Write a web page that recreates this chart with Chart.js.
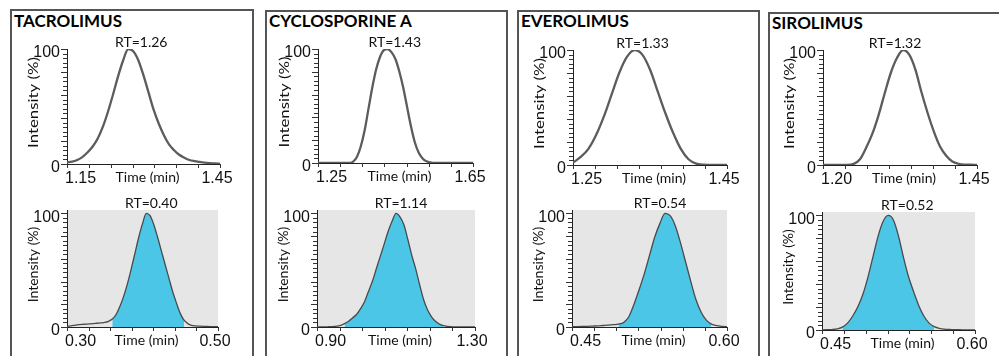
<!DOCTYPE html>
<html>
<head>
<meta charset="utf-8">
<script src="https://cdn.jsdelivr.net/npm/chart.js@4.4.0/dist/chart.umd.min.js"></script>
<style>
body{margin:0;background:#fff;}
#wrap{position:relative;width:999px;height:356px;overflow:hidden;background:#fff;}
.box{position:absolute;border:2px solid #555;height:400px;}
.ttl{position:absolute;font:bold 17px Lato,sans-serif;line-height:17px;color:#000;white-space:nowrap;}
canvas{position:absolute;}
</style>
</head>
<body>
<div id="wrap"></div>
<script>
// drug names and retention time labels
var drugs = ['TACROLIMUS', 'CYCLOSPORINE A', 'EVEROLIMUS', 'SIROLIMUS'];
var rtTop = ['RT=1.26', 'RT=1.43', 'RT=1.33', 'RT=1.32'];
var rtBottom = ['RT=0.40', 'RT=1.14', 'RT=0.54', 'RT=0.52'];

// tick labels (first / last of each x axis), y axis
var xTicksTop = [['1.15', '1.45'], ['1.25', '1.65'], ['1.25', '1.45'], ['1.20', '1.45']];
var xTicksBottom = [['0.30', '0.50'], ['0.90', '1.30'], ['0.45', '0.60'], ['0.45', '0.60']];
var yTicks = ['0', '100'];

// top row chromatograms (time in min, intensity in %)
var tacTopTime = [1.15,1.16,1.17,1.18,1.19,1.20,1.21,1.22,1.23,1.24,1.25,1.26,1.27,1.28,1.29,1.30,1.31,1.32,1.33,1.34,1.35,1.36,1.37,1.38,1.39,1.40,1.41,1.42,1.43,1.44,1.45];
var tacTopInt = [1.5,2,3.5,6,10,15,22,32,45,60,76,90,100,98,90,77,62,47,35,25,17,12,8,5.5,3.5,2.5,1.8,1.2,0.8,0.5,0.3];

var csaTopTime = [1.25,1.26,1.27,1.28,1.29,1.30,1.31,1.32,1.33,1.34,1.35,1.36,1.37,1.38,1.39,1.40,1.41,1.42,1.43,1.44,1.45,1.46,1.47,1.48,1.49,1.50,1.51,1.52,1.53,1.54,1.55,1.56,1.57,1.58,1.59,1.60,1.61,1.62,1.63,1.64,1.65];
var csaTopInt = [0,0,0,0,0,0,0,0,0,1,5,14,28,47,66,82,93,99,100,97,91,80,66,49,32,18,9,4,1.5,0.5,0,0,0,0,0,0,0,0,0,0,0];

var eveTopTime = [1.25,1.26,1.27,1.28,1.29,1.30,1.31,1.32,1.33,1.34,1.35,1.36,1.37,1.38,1.39,1.40,1.41,1.42,1.43,1.44,1.45];
var eveTopInt = [2,7,14,26,42,61,80,94,100,96,83,64,45,28,14,5,1.2,0.3,0,0,0];

var sirTopTime = [1.20,1.21,1.22,1.23,1.24,1.25,1.26,1.27,1.28,1.29,1.30,1.31,1.32,1.33,1.34,1.35,1.36,1.37,1.38,1.39,1.40,1.41,1.42,1.43,1.44,1.45];
var sirTopInt = [0,0,0,0,0,1,5,15,27,43,62,80,93,100,96,83,63,45,29,16,8,3,1,0.3,0.2,0.1];

// bottom row chromatograms
var tacBotTime = [0.300,0.305,0.310,0.315,0.320,0.325,0.330,0.335,0.340,0.345,0.350,0.355,0.360,0.365,0.370,0.375,0.380,0.385,0.390,0.395,0.400,0.405,0.410,0.415,0.420,0.425,0.430,0.435,0.440,0.445,0.450,0.455,0.460,0.465,0.470,0.475,0.480,0.485,0.490,0.495,0.500];
var tacBotInt = [0.5,1,1.5,2,2.3,2.5,2.7,3,3.3,3.6,4,5,7,11,18,27,38,51,65,79,91,100,98,90,79,67,55,43,31,21,12,6,3,1.5,1,0.8,0.6,0.5,0.4,0.3,0.3];

var csaBotTime = [0.90,0.91,0.92,0.93,0.94,0.95,0.96,0.97,0.98,0.99,1.00,1.01,1.02,1.03,1.04,1.05,1.06,1.07,1.08,1.09,1.10,1.11,1.12,1.13,1.14,1.15,1.16,1.17,1.18,1.19,1.20,1.21,1.22,1.23,1.24,1.25,1.26,1.27,1.28,1.29,1.30];
var csaBotInt = [0,0,0,0.2,0.4,0.7,1.5,3,5,8,11,16,22,31,40,51,62,73,84,93,100,97,90,77,63,51,37,24,15,9,5,2.5,1.2,0.6,0.3,0,0,0,0,0,0];

var eveBotTime = [0.450,0.455,0.460,0.465,0.470,0.475,0.480,0.485,0.490,0.495,0.500,0.505,0.510,0.515,0.520,0.525,0.530,0.535,0.540,0.545,0.550,0.555,0.560,0.565,0.570,0.575,0.580,0.585,0.590,0.595,0.600];
var eveBotInt = [0.3,0.4,0.5,0.6,0.8,1,1.3,1.6,2,2.5,4,9,20,33,47,63,79,91,100,98,89,74,57,40,24,13,6,2.5,1.2,0.6,0.3];

var sirBotTime = [0.450,0.455,0.460,0.465,0.470,0.475,0.480,0.485,0.490,0.495,0.500,0.505,0.510,0.515,0.520,0.525,0.530,0.535,0.540,0.545,0.550,0.555,0.560,0.565,0.570,0.575,0.580,0.585,0.590,0.595,0.600];
var sirBotInt = [0,0.2,0.4,1,2.5,6,12,20,31,46,64,82,95,100,96,82,63,46,33,21,12,6,3,1.5,0.8,0.5,0.3,0.2,0.1,0,0];

// integrated (blue) windows of the bottom peaks
var integStart = [0.36, 0.965, 0.495, 0.47];
var integEnd = [0.455, 1.225, 0.585, 0.56];

var topTimes = [tacTopTime, csaTopTime, eveTopTime, sirTopTime];
var topInts = [tacTopInt, csaTopInt, eveTopInt, sirTopInt];
var botTimes = [tacBotTime, csaBotTime, eveBotTime, sirBotTime];
var botInts = [tacBotInt, csaBotInt, eveBotInt, sirBotInt];

// layout (page px)
var boxes = [[10, 9, 240], [265, 10, 239], [517, 10, 239], [768, 12, 250]];
var titleTop = [12, 12, 12, 14];
// chart areas: left, right, top, bottom
var areas = [
  [[67, 220, 49, 164], [67, 218, 210, 327]],
  [[318, 473, 49, 163], [317, 475, 210, 327]],
  [[573, 727, 50, 165], [572, 727, 210, 327]],
  [[823, 977, 50, 165], [822, 975, 212, 330]]
];
var rtShift = [[13, 5], [7, 5], [8, -5], [-8, 19]];

var wrap = document.getElementById('wrap');

var bgPlugin = {
  id: 'greyBg',
  beforeDraw: function(chart, args, o) {
    if (!o.color) return;
    var a = chart.chartArea, ctx = chart.ctx;
    ctx.save();
    ctx.fillStyle = o.color;
    ctx.fillRect(a.left, a.top, a.right - a.left, a.bottom - a.top);
    ctx.restore();
  }
};

// tick marks, tick labels, axis titles and RT label
var textPlugin = {
  id: 'panelText',
  afterDraw: function(chart, args, o) {
    var ctx = chart.ctx, a = chart.chartArea, sx = chart.scales.x, sy = chart.scales.y;
    ctx.save();
    ctx.strokeStyle = '#333';
    ctx.lineWidth = 1;
    ctx.beginPath();
    for (var v = 0; v <= 100; v += 4) {
      var py = Math.round(sy.getPixelForValue(v)) + 0.5;
      var len = v % 20 === 0 ? 6 : 4;
      ctx.moveTo(a.left - len, py);
      ctx.lineTo(a.left, py);
    }
    for (var i = 0; i <= 7; i++) {
      var px = Math.round(sx.getPixelForValue(sx.min + (sx.max - sx.min) * i / 7)) + 0.5;
      ctx.moveTo(px, a.bottom);
      ctx.lineTo(px, a.bottom + 4);
    }
    ctx.stroke();

    ctx.fillStyle = '#111';
    ctx.font = '16px "Liberation Sans", Arial, sans-serif';
    ctx.textBaseline = 'middle';
    ctx.textAlign = 'right';
    ctx.fillText(yTicks[1], a.left - 7, sy.getPixelForValue(100) + 4);
    ctx.fillText(yTicks[0], a.left - 7, sy.getPixelForValue(0) + 4);
    ctx.textAlign = 'left';
    ctx.fillText(o.xLabels[0], sx.getPixelForValue(sx.min) - 2, a.bottom + 15);
    ctx.textAlign = 'center';
    ctx.fillText(o.xLabels[1], sx.getPixelForValue(sx.max) - 3, a.bottom + 15);
    ctx.font = '14px Lato, sans-serif';
    ctx.fillText('Time (min)', (a.left + a.right) / 2 + 4, a.bottom + 13);

    var d = chart.data.datasets[0].data, pk = d[0];
    d.forEach(function(p) { if (p.y > pk.y) pk = p; });
    ctx.font = '14px Lato, sans-serif';
    ctx.textBaseline = 'bottom';
    ctx.fillText(o.rt, sx.getPixelForValue(pk.x) + o.shift, a.top);

    ctx.translate(a.left - 34, (a.top + a.bottom) / 2 - 4);
    ctx.rotate(-Math.PI / 2);
    ctx.scale(o.stretch, 1);
    ctx.font = '14px Lato, sans-serif';
    ctx.textBaseline = 'middle';
    ctx.fillText('Intensity (%)', 0, 0);
    ctx.restore();
  }
};

function points(t, v) {
  return t.map(function(x, i) { return {x: x, y: v[i]}; });
}

function makeChart(p, bottom) {
  var g = areas[p][bottom ? 1 : 0];
  var padL = 48, padR = 22, padT = 22, padB = 28;
  var c = document.createElement('canvas');
  c.width = g[1] - g[0] + padL + padR;
  c.height = g[3] - g[2] + padT + padB;
  c.style.left = (g[0] - padL) + 'px';
  c.style.top = (g[2] - padT) + 'px';
  wrap.appendChild(c);

  var labels = bottom ? xTicksBottom[p] : xTicksTop[p];
  var xmin = parseFloat(labels[0]), xmax = parseFloat(labels[1]);
  var ymax = bottom ? 103 : 100;
  var line = bottom ? points(botTimes[p], botInts[p]) : points(topTimes[p], topInts[p]);

  var ds = [{
    data: line,
    borderColor: bottom ? '#4a4a4a' : '#5c5c5c',
    borderWidth: bottom ? 1.3 : 2.3,
    pointRadius: 0,
    cubicInterpolationMode: 'monotone',
    fill: false,
    order: 0
  }];
  if (bottom) {
    ds.push({
      data: line.filter(function(q) { return q.x >= integStart[p] - 1e-9 && q.x <= integEnd[p] + 1e-9; }),
      borderWidth: 0,
      pointRadius: 0,
      backgroundColor: '#4cc6e7',
      cubicInterpolationMode: 'monotone',
      fill: 'origin',
      order: 1
    });
  }

  new Chart(c, {
    type: 'line',
    data: {datasets: ds},
    options: {
      responsive: false,
      animation: false,
      devicePixelRatio: 1,
      layout: {padding: {left: padL, right: padR, top: padT, bottom: padB}},
      plugins: {
        legend: {display: false},
        tooltip: {enabled: false},
        greyBg: {color: bottom ? '#e6e6e6' : null},
        panelText: {
          xLabels: labels,
          rt: bottom ? rtBottom[p] : rtTop[p],
          shift: rtShift[p][bottom ? 1 : 0],
          stretch: bottom ? 1 : 1.2
        }
      },
      scales: {
        x: {
          type: 'linear', min: xmin, max: xmax,
          afterFit: function(s) { s.height = 0; },
          ticks: {display: false},
          grid: {display: false},
          border: {color: '#222', width: 1}
        },
        y: {
          min: 0, max: ymax,
          afterFit: function(s) { s.width = 0; },
          ticks: {display: false},
          grid: {display: false},
          border: {color: '#222', width: 1}
        }
      }
    },
    plugins: [bgPlugin, textPlugin]
  });
}

drugs.forEach(function(name, p) {
  var b = document.createElement('div');
  b.className = 'box';
  b.style.left = boxes[p][0] + 'px';
  b.style.top = boxes[p][1] + 'px';
  b.style.width = boxes[p][2] + 'px';
  wrap.appendChild(b);
  var t = document.createElement('div');
  t.className = 'ttl';
  t.textContent = name;
  t.style.left = (boxes[p][0] + 4) + 'px';
  t.style.top = titleTop[p] + 'px';
  wrap.appendChild(t);
  makeChart(p, false);
  makeChart(p, true);
});
</script>
</body>
</html>
